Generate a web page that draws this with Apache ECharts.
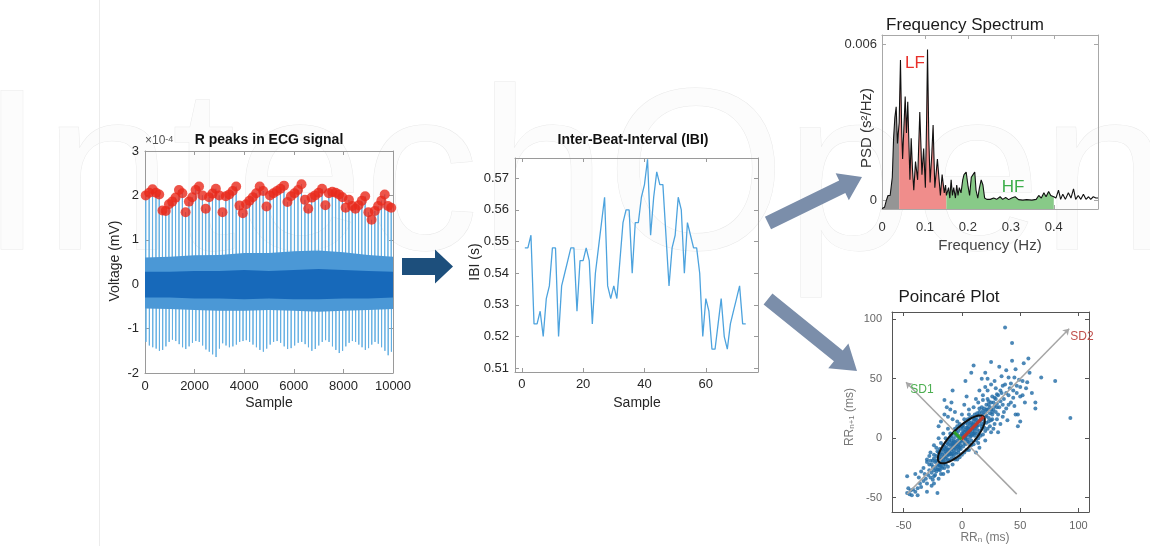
<!DOCTYPE html>
<html>
<head>
<meta charset="utf-8">
<title>HRV pipeline</title>
<script src="https://cdn.jsdelivr.net/npm/echarts@6/dist/echarts.min.js"></script>
<style>
  html, body { margin: 0; padding: 0; background: #fff; }
  #chart { width: 1150px; height: 546px; }
</style>
</head>
<body>
<div id="chart"></div>
<script>
// ---------------- data ----------------
// ECG: R-peak amplitudes (x1e-4 mV), one per beat
const fs = 250;          // sampling rate, Hz
const firstPeak = 30;    // sample index of the first R peak
const rPeakValues = [
  2.00, 2.06, 2.14, 2.06, 2.02, 1.66, 1.65, 1.80, 1.86, 1.95,
  2.12, 2.05, 1.62, 1.86, 1.96, 2.12, 2.20, 2.00, 1.70, 1.96,
  2.04, 2.15, 2.00, 1.62, 1.98, 2.02, 2.10, 2.20, 1.77, 1.60,
  1.80, 1.88, 1.96, 2.05, 2.20, 2.10, 1.75, 2.00, 2.05, 2.10,
  2.15, 2.22, 1.85, 1.98, 2.05, 2.12, 2.25, 1.90, 1.70, 1.95,
  2.00, 2.06, 2.15, 1.78, 2.05, 2.08, 2.06, 2.02, 1.96, 1.72,
  1.90, 1.76, 1.70, 1.78, 1.88, 1.98, 1.62, 1.45, 1.65, 1.76,
  1.88, 2.02, 1.76, 1.72
];
// ECG: S-wave troughs (x1e-4 mV), one per beat
const sTroughValues = [
  -1.30, -1.38, -1.42, -1.45, -1.50, -1.48, -1.40, -1.30, -1.25, -1.28,
  -1.35, -1.42, -1.46, -1.40, -1.32, -1.28, -1.30, -1.38, -1.47, -1.52,
  -1.58, -1.64, -1.45, -1.33, -1.38, -1.42, -1.40, -1.36, -1.30, -1.28,
  -1.26, -1.30, -1.36, -1.42, -1.48, -1.52, -1.45, -1.36, -1.30, -1.28,
  -1.32, -1.40, -1.46, -1.44, -1.38, -1.32, -1.30, -1.35, -1.42, -1.50,
  -1.46, -1.38, -1.30, -1.26, -1.30, -1.40, -1.48, -1.55, -1.50, -1.40,
  -1.32, -1.28, -1.30, -1.36, -1.42, -1.48, -1.44, -1.36, -1.30, -1.34,
  -1.42, -1.50, -1.60, -1.52
];
// ECG: envelope of the dense baseline band
const bandSample  = [0, 1000, 2000, 3000, 4000, 5000, 6000, 7000, 8000, 9000, 10000];
const outerTop    = [0.60, 0.62, 0.65, 0.66, 0.70, 0.70, 0.74, 0.76, 0.72, 0.66, 0.62];
const outerBottom = [-0.55, -0.56, -0.58, -0.60, -0.60, -0.58, -0.60, -0.62, -0.60, -0.58, -0.56];
const innerTop    = [0.28, 0.28, 0.30, 0.30, 0.32, 0.30, 0.32, 0.34, 0.32, 0.30, 0.28];
const innerBottom = [-0.30, -0.30, -0.32, -0.32, -0.34, -0.32, -0.34, -0.34, -0.32, -0.32, -0.30];

// Inter-beat intervals (s), samples 1..73
const ibiValues = [
  0.548, 0.548, 0.552, 0.524, 0.524, 0.528, 0.520, 0.532, 0.536, 0.548,
  0.548, 0.520, 0.536, 0.540, 0.544, 0.548, 0.548, 0.528, 0.544, 0.544,
  0.548, 0.544, 0.524, 0.540, 0.548, 0.556, 0.564, 0.536, 0.532, 0.536,
  0.532, 0.544, 0.556, 0.560, 0.560, 0.540, 0.556, 0.556, 0.564, 0.568,
  0.576, 0.552, 0.564, 0.572, 0.568, 0.568, 0.552, 0.536, 0.548, 0.552,
  0.564, 0.560, 0.540, 0.556, 0.552, 0.548, 0.548, 0.540, 0.520, 0.532,
  0.528, 0.516, 0.516, 0.524, 0.532, 0.520, 0.516, 0.524, 0.528, 0.532,
  0.536, 0.524, 0.524
];
const ibiTicks = [0.51, 0.52, 0.53, 0.54, 0.55, 0.56, 0.57];

// Spectrum: [frequency Hz, PSD x1e-3 s^2/Hz]
const spectrum = [
  [0.000, -0.30], [0.006, -0.25], [0.010, 0.00], [0.014, 0.20], [0.019, 0.20],
  [0.024, 0.90], [0.027, 2.40], [0.030, 3.20], [0.033, 3.60], [0.036, 2.20],
  [0.040, 3.00], [0.043, 5.40], [0.046, 2.60], [0.048, 1.60], [0.051, 2.80],
  [0.054, 4.00], [0.057, 2.60], [0.060, 3.80], [0.063, 2.00], [0.065, 0.80],
  [0.068, 2.40], [0.071, 1.20], [0.074, 0.40], [0.078, 1.50], [0.083, 0.80],
  [0.088, 3.40], [0.093, 1.00], [0.097, 2.00], [0.101, 0.50], [0.104, 3.20],
  [0.106, 5.80], [0.109, 2.40], [0.112, 0.70], [0.116, 1.80], [0.119, 2.90],
  [0.123, 0.50], [0.129, 1.60], [0.136, 0.20], [0.140, 1.00], [0.145, 0.30],
  [0.148, 0.60], [0.150, 0.20], [0.155, 0.50], [0.158, 0.10], [0.161, 0.80],
  [0.164, 0.20], [0.167, 0.50], [0.171, 0.10], [0.174, 0.60], [0.177, 0.20],
  [0.180, 0.50], [0.184, 0.30], [0.188, 0.80], [0.191, 1.00], [0.196, 1.10],
  [0.200, 0.60], [0.204, 0.20], [0.208, 0.90], [0.212, 1.00], [0.216, 1.10],
  [0.219, 0.40], [0.223, 0.10], [0.227, 0.50], [0.231, 0.80], [0.235, 0.60],
  [0.239, 0.10], [0.244, 0.05], [0.252, 0.05], [0.260, 0.10], [0.267, 0.05],
  [0.275, 0.15], [0.281, 0.05], [0.288, 0.12], [0.295, 0.04], [0.302, 0.10],
  [0.310, 0.15], [0.318, 0.04], [0.328, 0.02], [0.337, 0.04], [0.349, 0.02],
  [0.359, 0.05], [0.365, 0.20], [0.371, 0.10], [0.377, 0.30], [0.382, 0.15],
  [0.388, 0.35], [0.393, 0.20], [0.400, 0.15], [0.405, 0.10], [0.411, 0.40],
  [0.416, 0.05], [0.421, 0.25], [0.427, 0.05], [0.434, 0.30], [0.440, 0.10],
  [0.446, 0.45], [0.451, 0.05], [0.457, 0.20], [0.463, 0.05], [0.469, 0.25],
  [0.475, 0.05], [0.481, 0.15], [0.486, 0.05], [0.492, 0.15], [0.498, 0.10],
  [0.503, 0.10]
];
const bands = { vlf: [0, 0.04], lf: [0.04, 0.15], hf: [0.15, 0.40] };

// Poincare: [RR_n, RR_n+1] in ms
const poincarePoints = [
  [-47,-46],[-46,-42],[-45,-47],[-44,-44],[-43,-48],[-42,-43],[-47,-32],[-40,-45],[-38,-42],[-36,-38],
  [-35,-41],[-33,-36],[-32,-30],[-31,-34],[-30,-38],[-29,-31],[-28,-27],[-27,-33],[-26,-29],[-25,-24],
  [-25,-35],[-24,-27],[-23,-31],[-21,-46],[-21,-26],[-20,-22],[-24,-32],[-30,-20],[-28,-15],[-26,-40],
  [-35,-28],[-40,-30],[-24,-38],[-18,-30],[-15,-25],[-30,-45],[-38,-48],[-12,-24],[-33,-25],[-37,-33],
  [-28,-22],[-22,-28],[-19,-27],
  [-24,-17],[-22,-19],[-21,-23],[-20,-17],[-19,-21],[-18,-24],[-23,-20],[-17,-19],[-22,-15],[-16,-22],[-25,-19],[-20,-26],
  [-18,-12],[-17,-14],[-16,-16],[-15,-13],[-14,-17],[-13,-15],[-19,-16],[-12,-18],[-16,-10],[-14,-20],[-20,-12],[-11,-14],[-17,-9],
  [-13,-8],[-12,-10],[-11,-12],[-10,-9],[-9,-11],[-8,-13],[-14,-11],[-10,-6],[-7,-10],[-12,-5],[-9,-14],[-6,-12],[-15,-7],[-11,-3],
  [-8,-4],[-7,-6],[-6,-3],[-5,-5],[-4,-7],[-3,-5],[-9,-2],[-6,-8],[-2,-8],[-7,0],[-4,-2],[-10,1],[-3,-10],[-1,-6],
  [-3,1],[-2,-1],[-1,2],[0,0],[1,-2],[2,1],[-4,3],[3,-1],[-1,-3],[0,4],[2,-4],[4,2],[-5,5],[1,6],[-6,6],[5,-3],
  [2,5],[3,7],[4,4],[5,6],[6,3],[7,5],[1,9],[8,2],[4,9],[6,8],[9,6],[3,2],[8,-2],[10,4],
  [7,11],[8,13],[9,10],[10,12],[11,8],[12,10],[6,14],[13,7],[10,15],[14,11],[11,5],[5,16],
  [12,17],[13,15],[14,19],[15,14],[16,17],[17,12],[18,16],[11,20],[19,13],[15,22],[20,18],[17,8],
  [18,23],[19,20],[20,22],[21,19],[22,24],[23,17],[17,26],[24,21],[25,15],[21,28],[26,20],
  [23,28],[24,26],[25,30],[27,24],[28,27],[29,22],[22,33],[30,29],[31,20],[26,35],[32,26],
  [-21,-20],[-18,-18],[-15,-16],[-13,-12],[-11,-10],[-8,-8],[-6,-6],[-4,-4],[-2,-3],[0,-1],
  [2,2],[4,6],[6,5],[8,9],[10,8],[12,13],[14,14],[16,15],[-19,-14],[-16,-19],
  [-14,-9],[-9,-5],[-5,-9],[-1,1],[1,3],[3,0],[5,9],[7,7],[9,12],[11,11],
  [-7,-3],[-3,-7],[13,10],[-12,-14],[-10,-13],
  [28,34],[30,37],[33,31],[35,28],[34,38],[36,33],[38,25],[29,42],[40,36],[42,30],
  [37,45],[44,40],[45,27],[46,20],[47,44],[39,15],[48,10],[50,35],[52,48],[55,42],
  [54,30],[58,55],[63,30],[63,25],[68,51],[80,48],[93,17],[57,67],[53,63],[43,65],
  [43,80],[37,93],[25,64],[32,60],[10,61],[8,55],[3,48],[17,50],[-8,40],[-15,32],
  [40,51],[42,46],[49,49],[45,51],[48,20],[50,14],[35,18],[33,12],[27,8],[31,5],
  [-15,20],[-12,18],[-10,24],[-18,14],[-8,16],[-6,22],[-13,26],[-20,10],[-4,14],[-9,30],
  [0,20],[2,28],[6,24],[4,35],[12,33],[15,40],[20,43],[18,36],[22,40],[25,45],
  [10,-5],[14,0],[18,3],[22,8],[15,-8],[6,-10],[20,-2],[25,5],[12,-12],[28,12],
  [-30,-18],[-27,-12],[-22,-8],[-18,-4],[-14,0],[-10,4],[-6,8],[-2,12],[2,16],[6,20],
  [10,26],[14,30],[18,32],[-20,-34],[-16,-30],[-12,-28],[-8,-22],[-4,-18],[0,-14],[4,-10],
  [8,-6],[12,-2],[16,2],[20,6],[24,10],[30,16],[-26,-22],[-23,-25],[-19,-23],[-17,-25],
  [-14,-22],[-11,-19],[-9,-17],[-7,-15],[-5,-13],[-3,-12],[-1,-9],[1,-7],[3,-5],[5,-1],
  [7,1],[9,3],[11,2],[13,4],[15,6],[17,10],[19,9],[21,13],[23,14],[26,16],
  [-27,-19],[-24,-14],[-21,-11],[-19,-9],[-16,-6],[-13,-4],[-11,-1],[-9,2],[-7,4],[-5,2],
  [-3,6],[-1,8],[1,11],[3,13],[5,12],[7,17],[9,18],[11,16],[13,21],[15,25],
  [17,21],[19,25],[21,24],[23,31],[25,24],[27,30],[29,33],[31,36],[33,40],[35,44],
  [38,38],[41,42],[36,22],[40,28],[44,34],[47,38],[50,43],[52,36],[56,47],[60,38],
  [34,52],[28,48],[22,50],[38,57],[46,58],[20,55],[30,26],[26,22],[-12,8],[-16,4],
  [-20,0],[-24,-6],[-6,-18],[-2,-16],[2,-12],[0,10],[-4,10],[14,-4],[6,-4]
];
const poincareFit = { cx: -0.5, cy: -1, sd1: 9, sd2: 27 };
const identityLine = [[-47, -47], [92, 92]];
const perpLine = [[47, -47], [-48, 47]];

// ---------------- derived ----------------
const peakSamples = [firstPeak];
for (let i = 0; i < ibiValues.length; i++) {
  peakSamples.push(peakSamples[i] + ibiValues[i] * fs);
}

const FONT = "'Liberation Sans', Arial, Helvetica, sans-serif";

function axisPair(dir, g, cfg) {
  const base = {
    gridIndex: g, type: 'value', min: cfg.min, max: cfg.max,
    splitLine: { show: false },
    axisLine: { show: true, onZero: false, lineStyle: { color: cfg.line, width: 1 } },
    axisTick: { show: true, inside: true, length: 4, lineStyle: { color: cfg.line } }
  };
  if (cfg.interval) base.interval = cfg.interval;
  if (cfg.ticks) base.axisTick.customValues = cfg.ticks;
  const main = Object.assign({}, base, {
    position: dir === 'x' ? 'bottom' : 'left',
    axisLabel: {
      show: true, color: cfg.color, fontSize: cfg.size, fontFamily: FONT,
      margin: cfg.margin, formatter: cfg.fmt || (v => String(v)),
      customValues: cfg.ticks, hideOverlap: false
    }
  });
  const mirror = Object.assign({}, base, {
    position: dir === 'x' ? 'top' : 'right',
    axisLabel: { show: false }
  });
  return [main, mirror];
}

const ecgX = axisPair('x', 0, { min: 0, max: 10000, interval: 2000, line: '#9a9a9a', color: '#262626', size: 13, margin: 7 });
const ecgY = axisPair('y', 0, { min: -2, max: 3, interval: 1, line: '#9a9a9a', color: '#262626', size: 13, margin: 6 });
const ibiX = axisPair('x', 1, { min: -2.2, max: 77, ticks: [0, 20, 40, 60], line: '#9a9a9a', color: '#262626', size: 13, margin: 6 });
const ibiY = axisPair('y', 1, { min: 0.5088, max: 0.5764, ticks: ibiTicks, line: '#9a9a9a', color: '#262626', size: 13, margin: 6, fmt: v => v.toFixed(2) });
const spX = axisPair('x', 2, { min: 0, max: 0.503, ticks: [0, 0.1, 0.2, 0.3, 0.4], line: '#a8a8a8', color: '#333', size: 13, margin: 12, fmt: v => v === 0 ? '0' : v.toFixed(1) });
const spY = axisPair('y', 2, { min: -0.32, max: 6.36, ticks: [0, 6], line: '#a8a8a8', color: '#333', size: 13, margin: 5, fmt: v => v === 0 ? '0' : (v / 1000).toFixed(3) });
const pcX = axisPair('x', 3, { min: -60, max: 109, ticks: [-50, 0, 50, 100], line: '#555', color: '#666', size: 11, margin: 8 });
const pcY = axisPair('y', 3, { min: -62, max: 106, ticks: [-50, 0, 50, 100], line: '#555', color: '#666', size: 11, margin: 10 });

function bandSeries(top, bottom, color) {
  return {
    type: 'custom', xAxisIndex: 0, yAxisIndex: 0, silent: true, clip: true, z: 3,
    data: [[0, 0]],
    renderItem(params, api) {
      const pts = [];
      bandSample.forEach((s, i) => pts.push(api.coord([s, top[i]])));
      for (let i = bandSample.length - 1; i >= 0; i--) pts.push(api.coord([bandSample[i], bottom[i]]));
      return { type: 'polygon', shape: { points: pts }, style: { fill: color, stroke: null } };
    }
  };
}

function bandArea(range, color) {
  return {
    type: 'line', xAxisIndex: 2, yAxisIndex: 2, showSymbol: false, silent: true, z: 2,
    data: spectrum.filter(p => p[0] >= range[0] - 1e-9 && p[0] <= range[1] + 1e-9),
    lineStyle: { width: 0 },
    areaStyle: { color: color, opacity: 1, origin: 'start' }
  };
}

function arrowPts(x0, y0, x1, y1, sw, hl, hw) {
  const dx = x1 - x0, dy = y1 - y0, L = Math.hypot(dx, dy);
  const ux = dx / L, uy = dy / L, nx = -uy, ny = ux;
  const bx = x1 - ux * hl, by = y1 - uy * hl;
  return [
    [x0 + nx * sw / 2, y0 + ny * sw / 2], [bx + nx * sw / 2, by + ny * sw / 2],
    [bx + nx * hw / 2, by + ny * hw / 2], [x1, y1],
    [bx - nx * hw / 2, by - ny * hw / 2], [bx - nx * sw / 2, by - ny * sw / 2],
    [x0 - nx * sw / 2, y0 - ny * sw / 2]
  ];
}

function txt(text, x, y, opt) {
  opt = opt || {};
  return {
    type: 'text', x: x, y: y, rotation: opt.rot || 0, z: 10,
    style: {
      text: text, fill: opt.color || '#262626', textAlign: opt.align || 'center',
      textVerticalAlign: 'middle', fontFamily: FONT, fontSize: opt.size || 14,
      fontWeight: opt.weight || 'normal', rich: opt.rich
    }
  };
}

const chart = echarts.init(document.getElementById('chart'), null, { renderer: 'canvas' });

const f = poincareFit;
const c45 = Math.SQRT1_2;

chart.setOption({
  backgroundColor: '#fff',
  animation: false,
  grid: [
    { left: 145, top: 151, width: 248, height: 222 },
    { left: 515, top: 158, width: 243, height: 214 },
    { left: 882, top: 35, width: 216, height: 174 },
    { left: 892, top: 312, width: 197, height: 200 }
  ],
  xAxis: [ecgX[0], ibiX[0], spX[0], pcX[0], ecgX[1], ibiX[1], spX[1], pcX[1]],
  yAxis: [ecgY[0], ibiY[0], spY[0], pcY[0], ecgY[1], ibiY[1], spY[1], pcY[1]],
  graphic: [
    // faint page watermark and margin line
    { type: 'text', x: -20, y: 186, z: -10, silent: true,
      style: { text: 'IntechOpen', fontFamily: FONT, fontSize: 230, textVerticalAlign: 'middle',
               fill: '#fcfcfc', stroke: '#e9e9e9', lineWidth: 1 } },
    { type: 'line', z: -9, silent: true, shape: { x1: 99.5, y1: 0, x2: 99.5, y2: 546 }, style: { stroke: '#ececec', lineWidth: 1 } },
    // arrows
    { type: 'polygon', z: 5, shape: { points: arrowPts(402, 266.5, 453, 266.5, 17, 18, 34) }, style: { fill: '#1d4f7c' } },
    { type: 'polygon', z: 5, shape: { points: arrowPts(768, 223, 862, 177, 14, 22, 30) }, style: { fill: '#7b8eaa' } },
    { type: 'polygon', z: 5, shape: { points: arrowPts(768, 299, 857, 371, 14, 24, 32) }, style: { fill: '#7b8eaa' } },
    // ECG panel text
    txt('R peaks in ECG signal', 269, 140, { weight: 'bold', size: 14, color: '#111' }),
    txt('{a|\u00d710}{b|-4}', 145, 141, { align: 'left', rich: {
      a: { fontSize: 12, fill: '#555', fontFamily: FONT },
      b: { fontSize: 9, fill: '#555', fontFamily: FONT, verticalAlign: 'top' } } }),
    txt('Voltage (mV)', 115, 261, { rot: Math.PI / 2, size: 14 }),
    txt('Sample', 269, 403, { size: 14 }),
    // IBI panel text
    txt('Inter-Beat-Interval (IBI)', 633, 140, { weight: 'bold', size: 14, color: '#111' }),
    txt('IBI (s)', 475, 262, { rot: Math.PI / 2, size: 14 }),
    txt('Sample', 637, 403, { size: 14 }),
    // spectrum text
    txt('Frequency Spectrum', 965, 25, { size: 17, color: '#1a1a1a' }),
    txt('PSD (s\u00b2/Hz)', 867, 128, { rot: Math.PI / 2, size: 15, color: '#333' }),
    txt('Frequency (Hz)', 990, 246, { size: 15, color: '#444' }),
    txt('LF', 915, 63, { size: 17, color: '#e8302a' }),
    txt('HF', 1013, 187, { size: 17, color: '#3cae4a' }),
    // Poincare text
    txt('Poincar\u00e9 Plot', 949, 297, { size: 17, color: '#1a1a1a' }),
    txt('{a|RR}{b|n+1}{a| (ms)}', 850, 417, { rot: Math.PI / 2, rich: {
      a: { fontSize: 12, fill: '#777', fontFamily: FONT },
      b: { fontSize: 8, fill: '#777', fontFamily: FONT, verticalAlign: 'bottom' } } }),
    txt('{a|RR}{b|n}{a| (ms)}', 985, 538, { rich: {
      a: { fontSize: 12, fill: '#777', fontFamily: FONT },
      b: { fontSize: 8, fill: '#777', fontFamily: FONT, verticalAlign: 'bottom' } } }),
    txt('SD2', 1082, 337, { size: 12, color: '#c0504d' }),
    txt('SD1', 922, 390, { size: 12, color: '#4caf50' })
  ],
  series: [
    // ---- ECG ----
    {
      type: 'custom', xAxisIndex: 0, yAxisIndex: 0, silent: true, clip: true, z: 2,
      data: peakSamples.map((t, i) => [t, rPeakValues[i], sTroughValues[i]]),
      renderItem(params, api) {
        const t = api.value(0), r = api.value(1), s = api.value(2);
        const pts = [[t - 6, 0.2], [t, r], [t + 8, s], [t + 16, -0.2]].map(p => api.coord(p));
        return { type: 'polyline', shape: { points: pts }, style: { stroke: '#62afe3', lineWidth: 1, fill: null } };
      }
    },
    bandSeries(outerTop, outerBottom, '#4b98d6'),
    bandSeries(innerTop, innerBottom, '#1769ba'),
    {
      type: 'scatter', xAxisIndex: 0, yAxisIndex: 0, silent: true, z: 6,
      symbolSize: 10, itemStyle: { color: '#e8291c' },
      data: peakSamples.map((t, i) => [t, rPeakValues[i]])
    },
    // ---- IBI ----
    {
      type: 'line', xAxisIndex: 1, yAxisIndex: 1, showSymbol: false, silent: true,
      lineStyle: { color: '#4da3de', width: 1.3 },
      data: ibiValues.map((v, i) => [i + 1, v])
    },
    // ---- spectrum ----
    bandArea(bands.vlf, '#959595'),
    bandArea(bands.lf, '#f08d8b'),
    bandArea(bands.hf, '#88ca88'),
    {
      type: 'line', xAxisIndex: 2, yAxisIndex: 2, showSymbol: false, silent: true, z: 4,
      lineStyle: { color: '#111', width: 1.1 },
      data: spectrum
    },
    // ---- Poincare ----
    {
      type: 'scatter', xAxisIndex: 3, yAxisIndex: 3, silent: true, z: 2,
      symbolSize: 4, itemStyle: { color: '#1f6aa5' },
      data: poincarePoints
    },
    {
      type: 'lines', coordinateSystem: 'cartesian2d', xAxisIndex: 3, yAxisIndex: 3, silent: true, z: 3,
      symbol: ['none', 'arrow'], symbolSize: 6,
      lineStyle: { color: '#a6a6a6', width: 1.5, opacity: 1 },
      data: [{ coords: identityLine }, { coords: perpLine }]
    },
    {
      type: 'custom', xAxisIndex: 3, yAxisIndex: 3, silent: true, z: 5,
      data: [[f.cx, f.cy]],
      renderItem(params, api) {
        const pts = [];
        for (let k = 0; k <= 72; k++) {
          const a = k / 72 * Math.PI * 2;
          const u = f.sd2 * Math.cos(a), w = f.sd1 * Math.sin(a);
          pts.push(api.coord([f.cx + (u - w) * c45, f.cy + (u + w) * c45]));
        }
        return { type: 'polyline', shape: { points: pts }, style: { stroke: '#111', lineWidth: 2, fill: null } };
      }
    },
    {
      type: 'line', xAxisIndex: 3, yAxisIndex: 3, showSymbol: false, silent: true, z: 6,
      lineStyle: { color: '#c0392b', width: 3 },
      data: [[f.cx, f.cy], [f.cx + f.sd2 * c45, f.cy + f.sd2 * c45]]
    },
    {
      type: 'line', xAxisIndex: 3, yAxisIndex: 3, showSymbol: false, silent: true, z: 6,
      lineStyle: { color: '#2ca02c', width: 3 },
      data: [[f.cx, f.cy], [f.cx - f.sd1 * c45, f.cy + f.sd1 * c45]]
    }
  ]
});
</script>
</body>
</html>
